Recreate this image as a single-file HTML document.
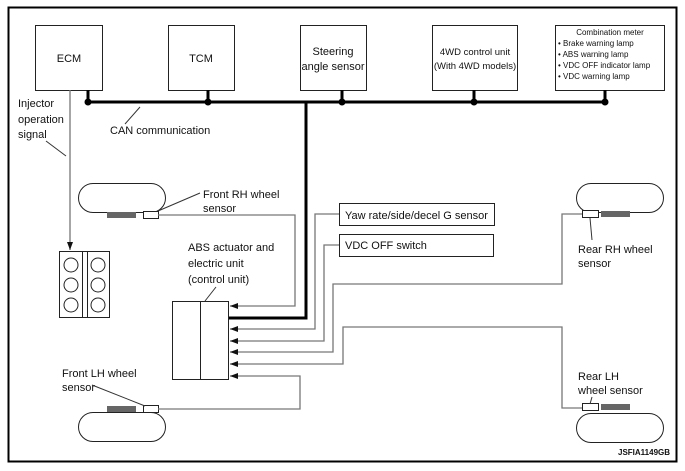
<!DOCTYPE html>
<html><head><meta charset="utf-8"><style>
body{margin:0;background:#fff}
svg{display:block}
text{font-family:"Liberation Sans",sans-serif;font-size:11px;fill:#111}
.g{stroke:#777;stroke-width:1.3;fill:none}
.k{stroke:#222;stroke-width:1;fill:#fff}
</style></head><body>
<svg width="685" height="471" viewBox="0 0 685 471">
<defs><marker id="a" markerWidth="8" markerHeight="6" refX="8" refY="3" orient="auto" markerUnits="userSpaceOnUse"><path d="M0,0L8,3L0,6z" fill="#111"/></marker></defs>
<rect x="8.5" y="7.5" width="668" height="454" fill="none" stroke="#000" stroke-width="2"/>
<rect class="k" x="35.5" y="25.5" width="67" height="65"/><text x="69" y="62" text-anchor="middle">ECM</text>
<rect class="k" x="168.5" y="25.5" width="66" height="65"/><text x="201" y="62" text-anchor="middle">TCM</text>
<rect class="k" x="300.5" y="25.5" width="66" height="65"/><text x="333" y="55" text-anchor="middle">Steering</text><text x="333" y="70" text-anchor="middle">angle sensor</text>
<rect class="k" x="432.5" y="25.5" width="85" height="65"/><text x="475" y="55" text-anchor="middle" style="font-size:9.5px">4WD control unit</text><text x="475" y="69" text-anchor="middle" style="font-size:9.5px">(With 4WD models)</text>
<rect class="k" x="555.5" y="25.5" width="109" height="65"/>
<text x="610" y="35" text-anchor="middle" style="font-size:8px">Combination meter</text>
<text x="558" y="46" style="font-size:8px">• Brake warning lamp</text><text x="558" y="57" style="font-size:8px">• ABS warning lamp</text><text x="558" y="68" style="font-size:8px">• VDC OFF indicator lamp</text><text x="558" y="79" style="font-size:8px">• VDC warning lamp</text>
<g stroke="#000" stroke-width="3" fill="none">
<line x1="87" y1="102" x2="605" y2="102"/>
<line x1="88" y1="90" x2="88" y2="102"/><line x1="208" y1="90" x2="208" y2="102"/><line x1="342" y1="90" x2="342" y2="102"/><line x1="474" y1="90" x2="474" y2="102"/><line x1="605" y1="90" x2="605" y2="102"/>
<polyline points="306,102 306,318 228,318"/>
</g>
<g fill="#000"><circle cx="88" cy="102" r="3.5"/><circle cx="208" cy="102" r="3.5"/><circle cx="342" cy="102" r="3.5"/><circle cx="474" cy="102" r="3.5"/><circle cx="605" cy="102" r="3.5"/></g>
<text x="110" y="134">CAN communication</text><line x1="125" y1="124" x2="140" y2="107" stroke="#333"/>
<line x1="70" y1="90" x2="70" y2="250" class="g" marker-end="url(#a)"/>
<text x="18" y="107">Injector</text><text x="18" y="123">operation</text><text x="18" y="138">signal</text>
<line x1="46" y1="141" x2="66" y2="156" stroke="#333"/>
<rect class="k" x="59.5" y="251.5" width="50" height="66"/><line x1="82.5" y1="251" x2="82.5" y2="318" stroke="#222"/><line x1="87.5" y1="251" x2="87.5" y2="318" stroke="#222"/>
<g class="k"><ellipse cx="71" cy="265" rx="7" ry="7"/><ellipse cx="71" cy="285" rx="7" ry="7"/><ellipse cx="71" cy="305" rx="7" ry="7"/><ellipse cx="98" cy="265" rx="7" ry="7"/><ellipse cx="98" cy="285" rx="7" ry="7"/><ellipse cx="98" cy="305" rx="7" ry="7"/></g>
<rect class="k" x="172.5" y="301.5" width="56" height="78"/><line x1="200.5" y1="301" x2="200.5" y2="380" stroke="#222"/>
<text x="188" y="251">ABS actuator and</text><text x="188" y="267">electric unit</text><text x="188" y="283">(control unit)</text>
<line x1="205" y1="301" x2="216" y2="287" stroke="#333"/>
<g class="k">
<rect x="78.5" y="183.5" width="87" height="29" rx="14.5"/><rect x="78.5" y="412.5" width="87" height="29" rx="14.5"/>
<rect x="576.5" y="183.5" width="87" height="29" rx="14.5"/><rect x="576.5" y="413.5" width="87" height="29" rx="14.5"/>
<rect x="143.5" y="211.5" width="15" height="7"/><rect x="143.5" y="405.5" width="15" height="7"/>
<rect x="582.5" y="210.5" width="16" height="7"/><rect x="582.5" y="403.5" width="16" height="7"/>
</g>
<g fill="#666"><rect x="107" y="212" width="29" height="6"/><rect x="107" y="406" width="29" height="6"/><rect x="601" y="211" width="29" height="6"/><rect x="601" y="404" width="29" height="6"/></g>
<text x="203" y="198">Front RH wheel</text><text x="203" y="212">sensor</text><line x1="158" y1="211" x2="200" y2="193" stroke="#333"/>
<text x="62" y="377">Front LH wheel</text><text x="62" y="391">sensor</text><line x1="92" y1="385" x2="145" y2="406" stroke="#333"/>
<text x="578" y="253">Rear RH wheel</text><text x="578" y="267">sensor</text><line x1="590" y1="218" x2="592" y2="240" stroke="#333"/>
<text x="578" y="380">Rear LH</text><text x="578" y="394">wheel sensor</text><line x1="592" y1="397" x2="590" y2="404" stroke="#333"/>
<rect class="k" x="339.5" y="203.5" width="155" height="22"/><text x="345" y="219">Yaw rate/side/decel G sensor</text>
<rect class="k" x="339.5" y="234.5" width="154" height="22"/><text x="345" y="249">VDC OFF switch</text>
<polyline class="g" points="158,215 295,215 295,306 230,306" marker-end="url(#a)"/>
<polyline class="g" points="339,214 315,214 315,329 230,329" marker-end="url(#a)"/>
<polyline class="g" points="339,245 324,245 324,341 230,341" marker-end="url(#a)"/>
<polyline class="g" points="582,214 562,214 562,284 333,284 333,352 230,352" marker-end="url(#a)"/>
<polyline class="g" points="582,408 562,408 562,327 343,327 343,364 230,364" marker-end="url(#a)"/>
<polyline class="g" points="158,409 300,409 300,376 230,376" marker-end="url(#a)"/>
<text x="618" y="455" style="font-size:8px;font-weight:bold">JSFIA1149GB</text>
</svg>
</body></html>
